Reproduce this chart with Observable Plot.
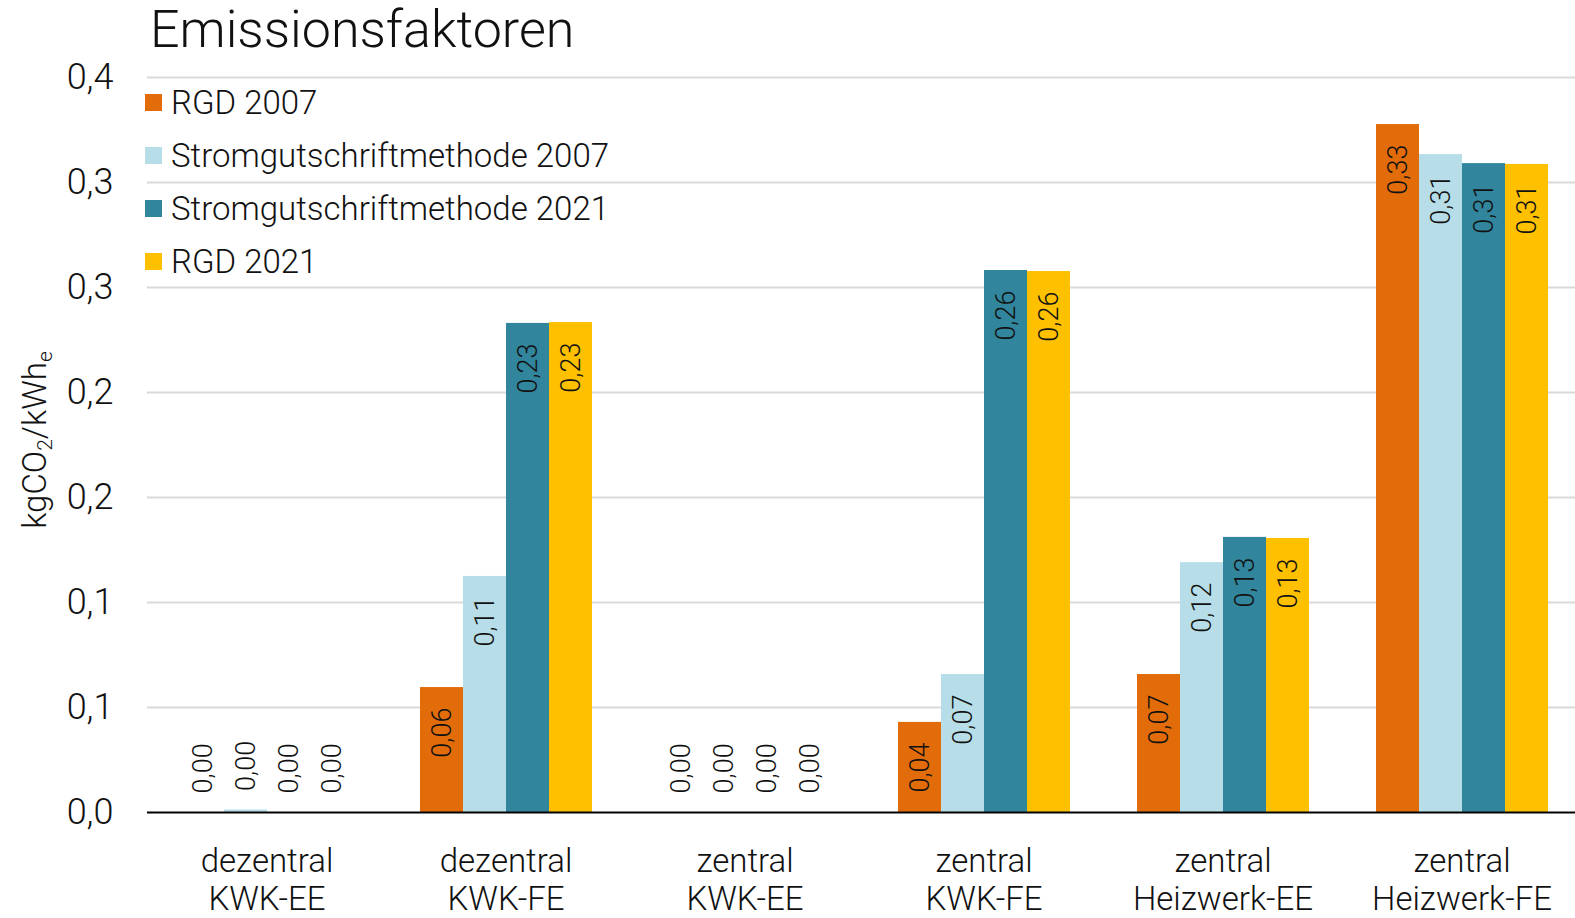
<!DOCTYPE html>
<html>
<head>
<meta charset="utf-8">
<script src="https://cdn.jsdelivr.net/npm/d3@7"></script>
<script src="https://cdn.jsdelivr.net/npm/@observablehq/plot@0.6"></script>
<style>
  body { margin: 0; background: #fff; font-family: Roboto, "Helvetica Neue", Arial, sans-serif; font-weight: 300; color: #111; }
  #wrap { position: relative; width: 1575px; height: 918px; overflow: hidden; background: #fff; }
  #title { height: 60px; line-height: 60px; font-size: 52px; padding-left: 150px; white-space: nowrap; }
  #legend { position: absolute; left: 145px; top: 76px; }
  .item { display: flex; align-items: center; height: 53px; font-size: 33px; white-space: nowrap; }
  .sw { width: 17px; height: 17px; margin-right: 9px; flex: none; }
  #ylab { position: absolute; left: 34px; top: 440px; transform: translate(-50%, -50%) rotate(-90deg); font-size: 33px; line-height: 33px; white-space: nowrap; }
  #ylab sub { font-size: 21px; vertical-align: -6px; line-height: 0; }
  #chart svg { overflow: visible; display: block; }
</style>
</head>
<body>
<div id="wrap">
  <div id="title">Emissionsfaktoren</div>
  <div id="chart"></div>
  <div id="legend"></div>
  <div id="ylab">kgCO<sub>2</sub>/kWh<sub>e</sub></div>
</div>
<script>
// ---- data ----
const categories = ["dezentral KWK-EE", "dezentral KWK-FE", "zentral KWK-EE", "zentral KWK-FE", "zentral Heizwerk-EE", "zentral Heizwerk-FE"];
const categoryLabels = ["dezentral\nKWK-EE", "dezentral\nKWK-FE", "zentral\nKWK-EE", "zentral\nKWK-FE", "zentral\nHeizwerk-EE", "zentral\nHeizwerk-FE"];
const series = ["RGD 2007", "Stromgutschriftmethode 2007", "Stromgutschriftmethode 2021", "RGD 2021"];
const colors = ["#E36C0A", "#B7DEE8", "#31859C", "#FFC000"];
const rgd2007   = [0.0000, 0.0595, 0.0000, 0.0429, 0.0657, 0.3276];
const strom2007 = [0.0012, 0.1124, 0.0000, 0.0657, 0.1190, 0.3133];
const strom2021 = [0.0000, 0.2329, 0.0000, 0.2581, 0.1310, 0.3090];
const rgd2021   = [0.0000, 0.2333, 0.0000, 0.2576, 0.1305, 0.3086];
const yTicks = [0, 0.05, 0.10, 0.15, 0.20, 0.25, 0.30, 0.35];
const yTickLabels = ["0,0", "0,1", "0,1", "0,2", "0,2", "0,3", "0,3", "0,4"];

const seriesValues = [rgd2007, strom2007, strom2021, rgd2021];
const data = [];
series.forEach((s, si) => categories.forEach((c, ci) => data.push({category: c, series: s, value: seriesValues[si][ci]})));
const fmt = v => v.toFixed(2).replace(".", ",");
const font = 'Roboto, "Helvetica Neue", Arial, sans-serif';

const chart = Plot.plot({
  width: 1575,
  height: 858,
  marginTop: 17,
  marginBottom: 106,
  marginLeft: 147,
  marginRight: -6,
  style: {fontFamily: font, fontWeight: 300, color: "#111", background: "white", overflow: "visible"},
  fx: {domain: categories, padding: 0, axis: null, label: null},
  x: {domain: series, paddingInner: 0, paddingOuter: 0.763, axis: null},
  y: {domain: [0, 0.35], axis: null},
  color: {domain: series, range: colors},
  marks: [
    Plot.ruleY(yTicks.slice(1), {stroke: "#d9d9d9", strokeWidth: 2}),
    Plot.barY(data, {fx: "category", x: "series", y: "value", fill: "series"}),
    Plot.ruleY([0], {stroke: "#000", strokeWidth: 2}),
    Plot.axisY(yTicks, {tickSize: 0, tickPadding: 34, fontSize: 36, label: null,
      tickFormat: d => yTickLabels[yTicks.indexOf(d)]}),
    Plot.text(data.filter(d => d.value >= 0.005), {fx: "category", x: "series", y: "value",
      text: d => fmt(d.value), rotate: -90, textAnchor: "end", lineAnchor: "middle", dy: 20, fontSize: 27, fill: "#111"}),
    Plot.text(data.filter(d => d.value < 0.005), {fx: "category", x: "series", y: "value",
      text: d => fmt(d.value), rotate: -90, textAnchor: "start", lineAnchor: "middle", dy: -19, fontSize: 27, fill: "#111"}),
    Plot.text(categories, {fx: d => d, text: (d, i) => categoryLabels[i], frameAnchor: "bottom",
      lineAnchor: "top", dy: 33, fontSize: 33, lineHeight: 1.15, fill: "#111"})
  ]
});
document.getElementById("chart").appendChild(chart);

const legend = document.getElementById("legend");
series.forEach((s, i) => {
  const row = document.createElement("div");
  row.className = "item";
  const sw = document.createElement("span");
  sw.className = "sw";
  sw.style.background = colors[i];
  const t = document.createElement("span");
  t.textContent = s;
  row.appendChild(sw);
  row.appendChild(t);
  legend.appendChild(row);
});
</script>
</body>
</html>
